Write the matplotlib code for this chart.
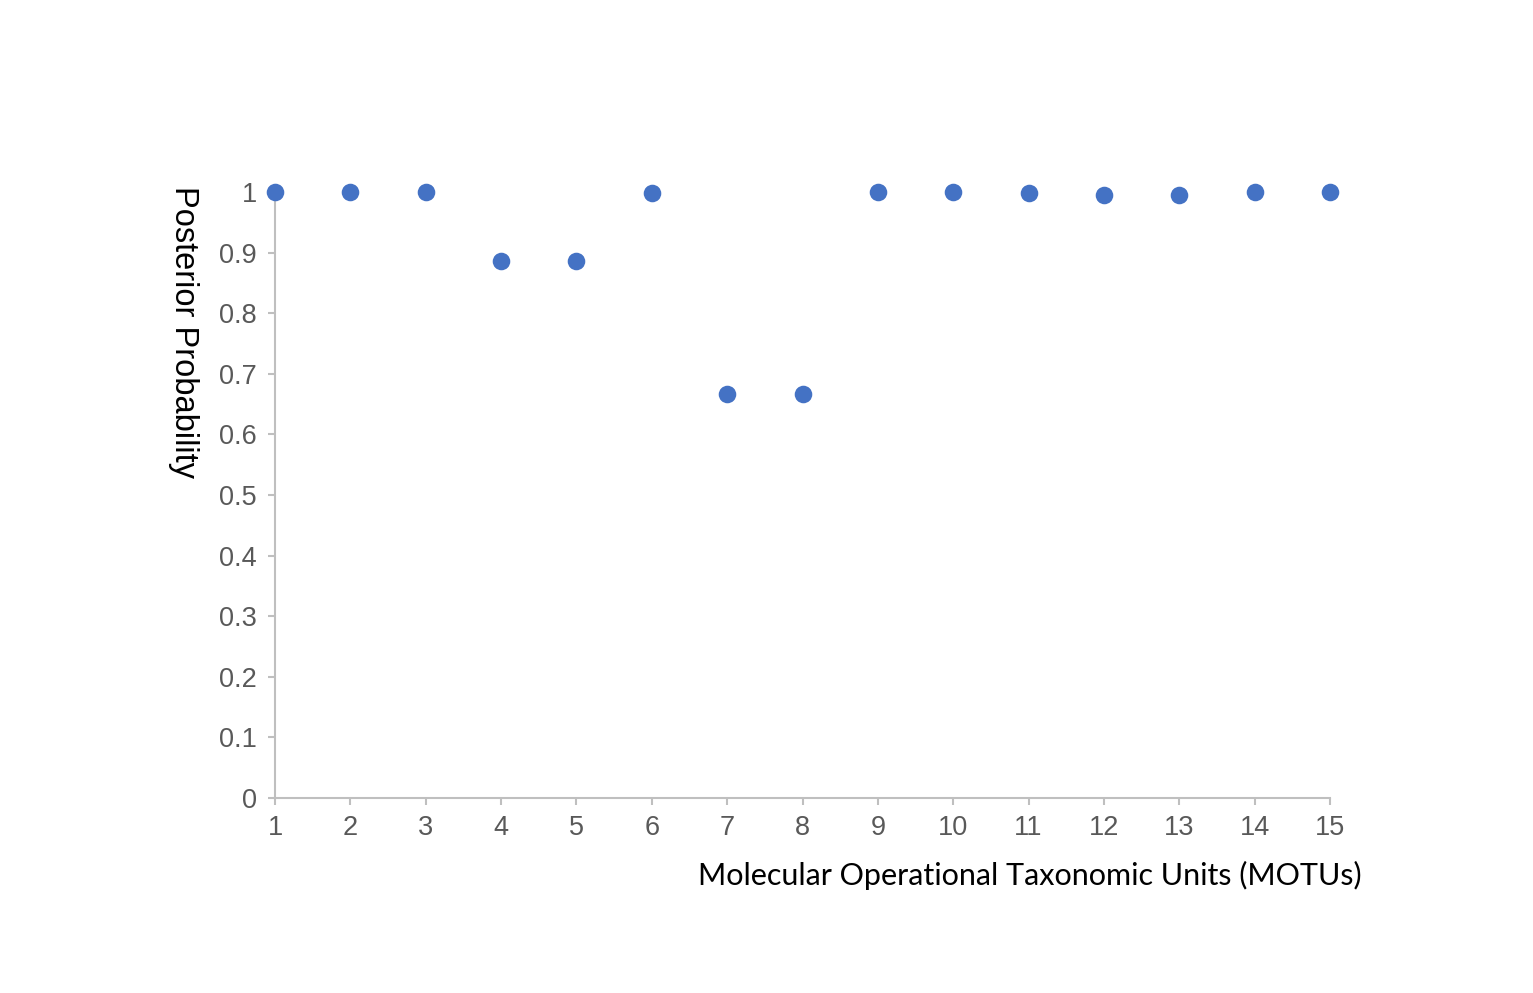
import numpy as np
import matplotlib.pyplot as plt

# MOTU index and posterior probability
motus = [1, 2, 3, 4, 5, 6, 7, 8, 9, 10, 11, 12, 13, 14, 15]
posterior = [1.0, 1.0, 1.0, 0.886, 0.886, 0.998, 0.667, 0.667,
             1.0, 1.0, 0.998, 0.995, 0.995, 1.0, 1.0]
yticks = [0, 0.1, 0.2, 0.3, 0.4, 0.5, 0.6, 0.7, 0.8, 0.9, 1]
ytick_labels = ['0', '0.1', '0.2', '0.3', '0.4', '0.5', '0.6', '0.7', '0.8', '0.9', '1']

W, H = 1533, 993
fig = plt.figure(figsize=(W / 100, H / 100), dpi=100)
ax = fig.add_axes((275 / W, 195 / H, (1330 - 275) / W, (801 - 195) / H))

ax.scatter(motus, posterior, s=160, color='#4472C4', zorder=3, clip_on=False,
           linewidths=0)

ax.set_xlim(1, 15)
ax.set_ylim(0, 1)
ax.set_xticks(motus)
ax.set_yticks(yticks)
ax.set_yticklabels(ytick_labels)

for side in ['top', 'right']:
    ax.spines[side].set_visible(False)
for side in ['left', 'bottom']:
    ax.spines[side].set_color('#BFBFBF')
    ax.spines[side].set_linewidth(1.5)

ax.tick_params(axis='both', colors='#BFBFBF', width=1.5, length=5,
               labelcolor='#595959', labelsize=19.5)
ax.tick_params(axis='x', pad=7.5)
ax.tick_params(axis='y', pad=8)
for lbl in ax.get_xticklabels() + ax.get_yticklabels():
    lbl.set_family('Liberation Sans')

fig.text(1362 / W, 1 - 875 / H, 'Molecular Operational Taxonomic Units (MOTUs)',
         ha='right', va='center', fontsize=22, family='Lato', color='black')
fig.text(183 / W, 1 - 332 / H, 'Posterior Probability', rotation=270,
         ha='center', va='center', fontsize=23.5, family='Liberation Sans',
         color='black')

fig.savefig('out.png', dpi=100)
